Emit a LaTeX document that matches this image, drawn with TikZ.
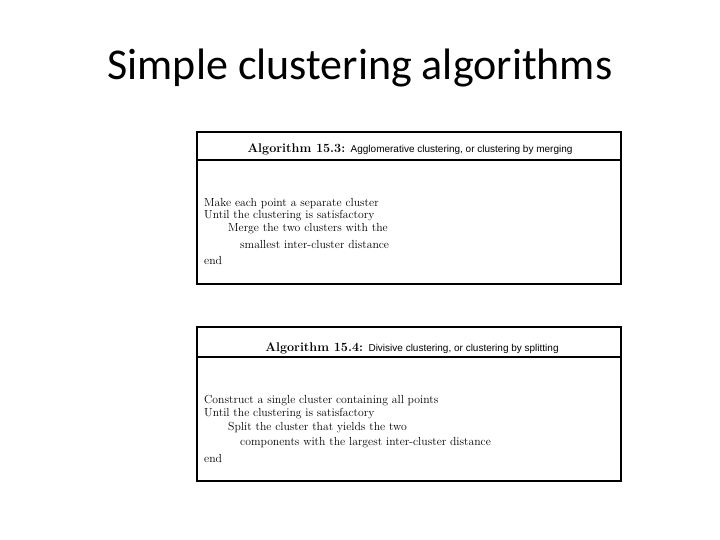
\documentclass[tikz,border=0pt]{standalone}
\usepackage{fontspec}
\newfontfamily\titlefont{Carlito}
\newfontfamily\hsans{Liberation Sans}
\begin{document}
\begin{tikzpicture}[x=1pt,y=-1pt,
  box/.style={draw,line width=1.2pt},
  body/.style={anchor=west,inner sep=0pt,font=\fontsize{11.7}{14}\selectfont},
  head/.style={inner sep=0pt,font=\fontsize{12.6}{14}\selectfont}]
\useasboundingbox (0,0) rectangle (720,540);
\node[font=\titlefont\fontsize{44}{50}\selectfont] (title) at (360,68) {Simple clustering algorithms};
% box 1
\draw[box] (197,132) rectangle (621,284);
\draw[box] (197,160) -- (621,160);
\node[head] (h1) at (410,149) {\textbf{Algorithm 15.3:} {\hsans\fontsize{10}{12}\selectfont Agglomerative clustering, or clustering by merging}};
\node[body] (a1) at (204,204) {Make each point a separate cluster};
\node[body] (a2) at (204,216) {Until the clustering is satisfactory};
\node[body] (a3) at (228,229) {Merge the two clusters with the};
\node[body] (a4) at (240,244) {smallest inter-cluster distance};
\node[body] (a5) at (204,260) {end};
% box 2
\draw[box] (197,327) rectangle (621,481);
\draw[box] (197,357) -- (621,357);
\node[head] (h2) at (412,348) {\textbf{Algorithm 15.4:} {\hsans\fontsize{10}{12}\selectfont Divisive clustering, or clustering by splitting}};
\node[body] (b1) at (204,401) {Construct a single cluster containing all points};
\node[body] (b2) at (204,414) {Until the clustering is satisfactory};
\node[body] (b3) at (228,428) {Split the cluster that yields the two};
\node[body] (b4) at (240,443) {components with the largest inter-cluster distance};
\node[body] (b5) at (204,458) {end};
\end{tikzpicture}
\end{document}
